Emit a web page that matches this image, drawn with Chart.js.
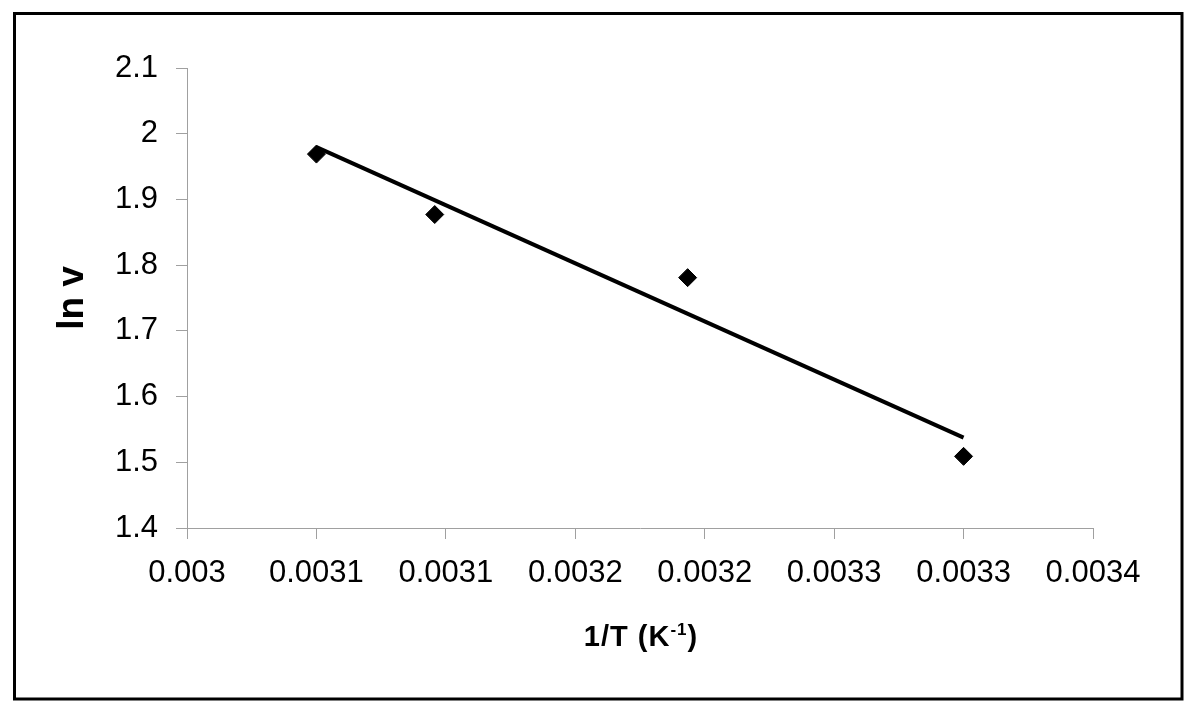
<!DOCTYPE html>
<html>
<head>
<meta charset="utf-8">
<script src="https://cdn.jsdelivr.net/npm/chart.js@4.4.1/dist/chart.umd.min.js"></script>
<style>
  html, body { margin: 0; padding: 0; background: #fff; }
  #wrap { width: 1200px; height: 714px; }
</style>
</head>
<body>
<div id="wrap"><canvas id="grafico" width="1200" height="714"></canvas></div>
<script>
// datos
var puntosX = [0.00305, 0.0030957, 0.0031934, 0.0033];
var puntosY = [1.969, 1.877, 1.781, 1.509];

// linea de tendencia (extremos)
var tendenciaX = [0.00305, 0.0033];
var tendenciaY = [1.9796, 1.5375];

// ticks
var xTickValues = [0.003, 0.00305, 0.0031, 0.00315, 0.0032, 0.00325, 0.0033, 0.00335];
var xTickLabels = ['0.003', '0.0031', '0.0031', '0.0032', '0.0032', '0.0033', '0.0033', '0.0034'];
var yTickValues = [1.4, 1.5, 1.6, 1.7, 1.8, 1.9, 2.0, 2.1];
var yTickLabels = ['1.4', '1.5', '1.6', '1.7', '1.8', '1.9', '2', '2.1'];

var fuente = "'Liberation Sans', Arial, sans-serif";

function pares(xs, ys) {
    var out = [];
    for (var i = 0; i < xs.length; i++) {
        out.push({ x: xs[i], y: ys[i] });
    }
    return out;
}

// marco y titulos de ejes
var decoracion = {
    id: 'decoracion',
    beforeDraw: function (chart) {
        var ctx = chart.ctx;
        ctx.save();
        ctx.fillStyle = '#fff';
        ctx.fillRect(0, 0, chart.width, chart.height);
        ctx.restore();
    },
    afterDraw: function (chart) {
        var ctx = chart.ctx;
        ctx.save();
        ctx.strokeStyle = '#000';
        ctx.lineWidth = 3;
        ctx.strokeRect(14.5, 13.5, 1167.5, 685.5);

        // titulo eje y
        ctx.fillStyle = '#000';
        ctx.font = 'bold 37px ' + fuente;
        ctx.textAlign = 'center';
        ctx.textBaseline = 'middle';
        ctx.translate(73, 298);
        ctx.rotate(-Math.PI / 2);
        ctx.fillText('ln v', 0, 0);
        ctx.restore();

        // titulo eje x con superindice
        ctx.save();
        ctx.fillStyle = '#000';
        ctx.textBaseline = 'alphabetic';
        ctx.textAlign = 'left';
        ctx.letterSpacing = '1px';
        var a = '1/T (K', b = '-1', c = ')';
        ctx.font = 'bold 29px ' + fuente;
        var wa = ctx.measureText(a).width;
        var wc = ctx.measureText(c).width;
        ctx.font = 'bold 17px ' + fuente;
        var wb = ctx.measureText(b).width;
        var x0 = 641 - (wa + wb + wc) / 2;
        var base = 646;
        ctx.font = 'bold 29px ' + fuente;
        ctx.fillText(a, x0, base);
        ctx.fillText(c, x0 + wa + wb, base);
        ctx.font = 'bold 17px ' + fuente;
        ctx.fillText(b, x0 + wa, base - 11);
        ctx.restore();
    }
};

var ctx = document.getElementById('grafico').getContext('2d');
var grafico = new Chart(ctx, {
    type: 'scatter',
    data: {
        datasets: [{
            label: 'tendencia',
            data: pares(tendenciaX, tendenciaY),
            showLine: true,
            borderColor: '#000',
            borderWidth: 4,
            pointRadius: 0,
            fill: false
        }, {
            label: 'ln v',
            data: pares(puntosX, puntosY),
            pointStyle: 'rectRot',
            pointRadius: 9,
            pointBackgroundColor: '#000',
            pointBorderColor: '#000',
            pointBorderWidth: 1
        }]
    },
    options: {
        responsive: false,
        animation: false,
        events: [],
        layout: {
            padding: { left: 0, right: 107, top: 68, bottom: 0 }
        },
        plugins: {
            legend: { display: false },
            tooltip: { enabled: false }
        },
        scales: {
            x: {
                type: 'linear',
                min: 0.003,
                max: 0.00335,
                afterBuildTicks: function (scale) {
                    scale.ticks = xTickValues.map(function (v) { return { value: v }; });
                },
                afterFit: function (scale) {
                    scale.height = 186;
                },
                grid: {
                    drawOnChartArea: false,
                    drawTicks: true,
                    tickLength: 11,
                    color: '#a0a0a0',
                    lineWidth: 1
                },
                border: { color: '#a0a0a0', width: 1 },
                ticks: {
                    color: '#000',
                    padding: 16,
                    maxRotation: 0,
                    autoSkip: false,
                    font: { family: fuente, size: 31 },
                    callback: function (v, i) { return xTickLabels[i]; }
                }
            },
            y: {
                type: 'linear',
                min: 1.4,
                max: 2.1,
                afterBuildTicks: function (scale) {
                    scale.ticks = yTickValues.map(function (v) { return { value: v }; });
                },
                afterFit: function (scale) {
                    scale.width = 187;
                },
                grid: {
                    drawOnChartArea: false,
                    drawTicks: true,
                    tickLength: 11,
                    color: '#a0a0a0',
                    lineWidth: 1
                },
                border: { color: '#a0a0a0', width: 1 },
                ticks: {
                    color: '#000',
                    padding: 18,
                    autoSkip: false,
                    font: { family: fuente, size: 31 },
                    callback: function (v, i) { return yTickLabels[i]; }
                }
            }
        }
    },
    plugins: [decoracion]
});
</script>
</body>
</html>
